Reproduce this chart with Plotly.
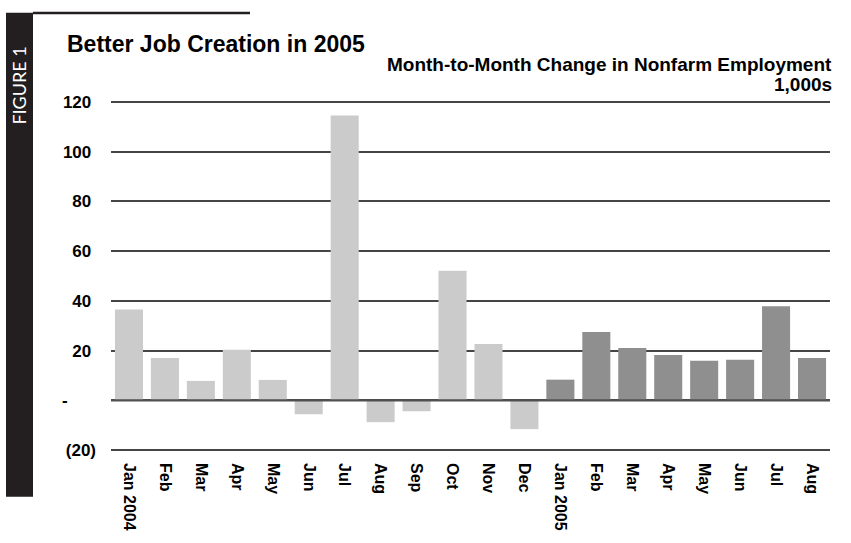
import plotly.graph_objects as go

# Monthly change in nonfarm employment (thousands)
months = ["Jan 2004", "Feb", "Mar", "Apr", "May", "Jun", "Jul", "Aug", "Sep", "Oct",
          "Nov", "Dec", "Jan 2005", "Feb", "Mar", "Apr", "May", "Jun", "Jul", "Aug"]
years = [2004] * 12 + [2005] * 8
changes = [36.5, 17.0, 7.8, 20.3, 8.2, -5.6, 114.6, -8.8, -4.4, 52.1,
           22.6, -11.6, 8.3, 27.5, 21.0, 18.2, 15.9, 16.3, 37.8, 17.0]

ytick_vals = [-20, 0, 20, 40, 60, 80, 100, 120]
ytick_text = ["(20)", "-", "20", "40", "60", "80", "100", "120"]

year_colors = {2004: "#CBCBCB", 2005: "#8F8F8F"}

W, H = 851, 543
ML, MR, MT, MB = 111, 21, 97, 85
PW, PH = W - ML - MR, H - MT - MB


def px(x):
    return (x - ML) / PW


def py(y):
    return (H - MB - y) / PH


def accounting(label):
    # accounting-style alignment: digits leave room for a closing parenthesis,
    # and the zero dash sits further left
    NB = "\u00a0"
    if label.startswith("("):
        return label
    if label == "-":
        return label + NB * 6
    return label + NB


FONT = "Liberation Sans, Arial, sans-serif"

fig = go.Figure()
fig.add_trace(go.Bar(
    x=list(range(len(months))),
    y=changes,
    marker=dict(color=[year_colors[y] for y in years], line=dict(width=0)),
    width=0.78,
    hoverinfo="y",
))

fig.update_layout(
    width=W, height=H,
    margin=dict(l=ML, r=MR, t=MT, b=MB, pad=0),
    paper_bgcolor="white", plot_bgcolor="white",
    showlegend=False,
    font=dict(family=FONT, color="black"),
    xaxis=dict(
        tickmode="array", tickvals=list(range(len(months))), ticktext=months,
        tickangle=90, range=[-0.5, len(months) - 0.5],
        showgrid=False, zeroline=False, showline=False, ticks="",
        ticklabelstandoff=7,
        tickfont=dict(family=FONT, size=16, color="black", weight="bold"),
    ),
    yaxis=dict(
        tickmode="array", tickvals=ytick_vals,
        ticktext=[accounting(t) for t in ytick_text],
        range=[-22, 122], showgrid=True, gridcolor="#454545", gridwidth=1.6,
        zeroline=False, showline=False, ticks="", ticklabelstandoff=14,
        tickfont=dict(family=FONT, size=17, color="black", weight="bold"),
    ),
    shapes=[
        # zero baseline drawn over the bars
        dict(type="line", xref="paper", yref="y", x0=0, x1=1, y0=0, y1=0,
             line=dict(color="#505050", width=2.2), layer="above"),
        # black sidebar
        dict(type="rect", xref="paper", yref="paper",
             x0=px(6), x1=px(33), y0=py(500), y1=py(12),
             fillcolor="#231F20", line=dict(width=0)),
        # top rule
        dict(type="line", xref="paper", yref="paper",
             x0=px(33), x1=px(250), y0=py(12.3), y1=py(12.3),
             line=dict(color="#231F20", width=2.5)),
    ],
    annotations=[
        dict(text="Better Job Creation in 2005", xref="paper", yref="paper",
             x=px(65), y=py(44), xanchor="left", yanchor="middle", showarrow=False,
             font=dict(family=FONT, size=23, color="black", weight="bold")),
        dict(text="Month-to-Month Change in Nonfarm Employment",
             xref="paper", yref="paper", x=px(834), y=py(64.5), xanchor="right",
             yanchor="middle", showarrow=False,
             font=dict(family=FONT, size=19, color="black", weight="bold")),
        dict(text="1,000s",
             xref="paper", yref="paper", x=px(834), y=py(84), xanchor="right",
             yanchor="middle", showarrow=False,
             font=dict(family=FONT, size=19, color="black", weight="bold")),
        dict(text="FIGURE 1", xref="paper", yref="paper", x=px(19.5), y=py(85),
             xanchor="center", yanchor="middle", textangle=-90, showarrow=False,
             font=dict(family="Lato, sans-serif", size=18, color="white")),
    ],
)

fig.write_html("out.html")
